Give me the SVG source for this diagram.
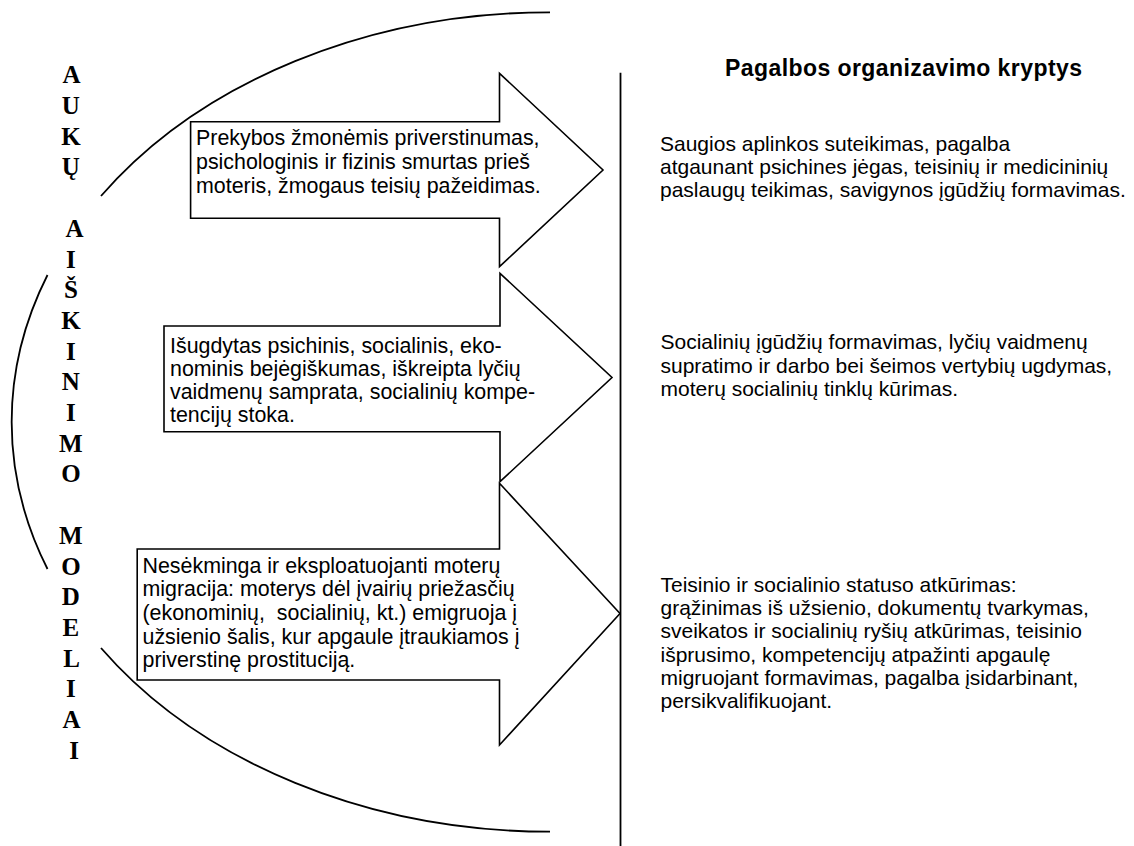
<svg xmlns="http://www.w3.org/2000/svg" width="1134" height="846" viewBox="0 0 1134 846">
<style>
.arrow{fill:#fff;stroke:#000;stroke-width:1.6;stroke-linejoin:miter}
.line{fill:none;stroke:#000;stroke-width:1.8}
.body{font-family:"Liberation Sans",Arial,sans-serif;font-size:21px;fill:#000}
.abody{font-family:"Liberation Sans",Arial,sans-serif;font-size:21.4px;fill:#000}
.title{font-family:"Liberation Sans",Arial,sans-serif;font-size:23px;font-weight:bold;fill:#000}
.side{font-family:"Liberation Serif","Times New Roman",serif;font-size:25px;font-weight:bold;fill:#000;text-anchor:middle}
</style>
<rect width="1134" height="846" fill="#fff"/>
<g id="connectors">
<path class="line" d="M550 12.3 A538.3 409.7 0 0 0 101 196"/>
<path class="line" d="M47.5 275 A538.3 409.7 0 0 0 47.5 569"/>
<path class="line" d="M101 648 A538.3 409.7 0 0 0 550 831.7"/>
<line class="line" x1="620.5" y1="72.7" x2="620.5" y2="846" stroke-width="2"/>
</g>
<g id="side-label">
<text class="side">
<tspan x="74" y="83.3">A</tspan>
<tspan x="74" y="114">U</tspan>
<tspan x="74" y="144.7">K</tspan>
<tspan x="74" y="175.4">Ų</tspan>
<tspan x="77" y="236.8">A</tspan>
<tspan x="74" y="267.5">I</tspan>
<tspan x="74" y="298.2">Š</tspan>
<tspan x="74" y="328.9">K</tspan>
<tspan x="74" y="359.6">I</tspan>
<tspan x="74" y="390.3">N</tspan>
<tspan x="74" y="421">I</tspan>
<tspan x="74" y="451.7">M</tspan>
<tspan x="74" y="482.4">O</tspan>
<tspan x="74" y="543.8">M</tspan>
<tspan x="74" y="574.5">O</tspan>
<tspan x="74" y="605.2">D</tspan>
<tspan x="74" y="635.9">E</tspan>
<tspan x="74" y="666.6">L</tspan>
<tspan x="74" y="697.3">I</tspan>
<tspan x="74" y="728">A</tspan>
<tspan x="74" y="758.7">I</tspan>
</text>
</g>
<g id="arrow1">
<polygon class="arrow" points="190.6,121.7 499.5,121.7 499.5,73.3 603,170 499.5,266.7 499.5,218.3 190.6,218.3"/>
<text class="abody">
<tspan x="196" y="145">Prekybos žmonėmis priverstinumas,</tspan>
<tspan x="196" y="169">psichologinis ir fizinis smurtas prieš</tspan>
<tspan x="196" y="193">moteris, žmogaus teisių pažeidimas.</tspan>
</text>
</g>
<g id="arrow2">
<polygon class="arrow" points="164,326 500,326 500,273.3 612,377.5 500,481.7 500,431.7 164,431.7"/>
<text class="abody">
<tspan x="170" y="353">Išugdytas psichinis, socialinis, eko-</tspan>
<tspan x="170" y="376">nominis bejėgiškumas, iškreipta lyčių</tspan>
<tspan x="170" y="399">vaidmenų samprata, socialinių kompe-</tspan>
<tspan x="170" y="422">tencijų stoka.</tspan>
</text>
</g>
<g id="arrow3">
<polygon class="arrow" points="137.2,549 499.5,549 499.5,483.3 620,613.5 499.5,745 499.5,680 137.2,680"/>
<text class="abody" xml:space="preserve"><tspan x="142.5" y="572.5">Nesėkminga ir eksploatuojanti moterų</tspan><tspan x="142.5" y="596">migracija: moterys dėl įvairių priežasčių</tspan><tspan x="142.5" y="620">(ekonominių,  socialinių, kt.) emigruoja į</tspan><tspan x="142.5" y="643.5">užsienio šalis, kur apgaule įtraukiamos į</tspan><tspan x="142.5" y="667">priverstinę prostituciją.</tspan></text>
</g>
<g id="title">
<text class="title" x="725" y="75.5" textLength="357" lengthAdjust="spacing">Pagalbos organizavimo kryptys</text>
</g>
<g id="help1">
<text class="body">
<tspan x="660" y="151">Saugios aplinkos suteikimas, pagalba</tspan>
<tspan x="660" y="174">atgaunant psichines jėgas, teisinių ir medicininių</tspan>
<tspan x="660" y="197">paslaugų teikimas, savigynos įgūdžių formavimas.</tspan>
</text>
</g>
<g id="help2">
<text class="body">
<tspan x="660.5" y="349">Socialinių įgūdžių formavimas, lyčių vaidmenų</tspan>
<tspan x="660.5" y="372.5">supratimo ir darbo bei šeimos vertybių ugdymas,</tspan>
<tspan x="660.5" y="396">moterų socialinių tinklų kūrimas.</tspan>
</text>
</g>
<g id="help3">
<text class="body">
<tspan x="660.5" y="591.7">Teisinio ir socialinio statuso atkūrimas:</tspan>
<tspan x="660.5" y="615">grąžinimas iš užsienio, dokumentų tvarkymas,</tspan>
<tspan x="660.5" y="638.3">sveikatos ir socialinių ryšių atkūrimas, teisinio</tspan>
<tspan x="660.5" y="661.7">išprusimo, kompetencijų atpažinti apgaulę</tspan>
<tspan x="660.5" y="685">migruojant formavimas, pagalba įsidarbinant,</tspan>
<tspan x="660.5" y="708.3">persikvalifikuojant.</tspan>
</text>
</g>
</svg>
